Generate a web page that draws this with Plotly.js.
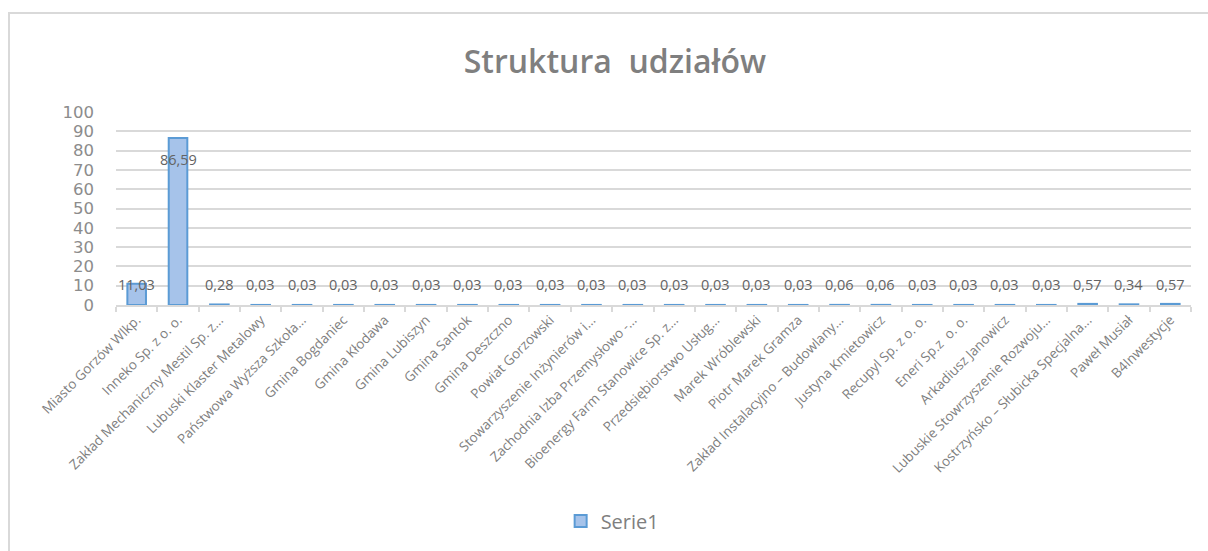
<!DOCTYPE html>
<html>
<head>
<meta charset="utf-8">
<script src="https://cdn.plot.ly/plotly-3.0.1.min.js"></script>
<style>
  html, body { margin:0; padding:0; background:#fff; overflow:hidden; }
  #wrap { position:relative; width:1208px; height:551px; }
  #chart { position:absolute; left:0; top:0; width:1208px; height:551px; }
  #frame { position:absolute; left:8px; top:12px; width:1220px; height:570px;
           border:2px solid #d9d9d9; pointer-events:none; box-sizing:border-box; }
</style>
</head>
<body>
<div id="wrap">
  <div id="chart"></div>
  <div id="frame"></div>
</div>
<script>
const categories = [
  "Miasto Gorzów Wlkp.",
  "Inneko Sp. z o. o.",
  "Zakład Mechaniczny Mestil Sp. z...",
  "Lubuski Klaster Metalowy",
  "Państwowa Wyższa Szkoła...",
  "Gmina Bogdaniec",
  "Gmina Kłodawa",
  "Gmina Lubiszyn",
  "Gmina Santok",
  "Gmina Deszczno",
  "Powiat Gorzowski",
  "Stowarzyszenie Inżynierów i...",
  "Zachodnia Izba Przemysłowo -...",
  "Bioenergy Farm Stanowice Sp. z...",
  "Przedsiębiorstwo Usług...",
  "Marek Wróblewski",
  "Piotr Marek Gramza",
  "Zakład Instalacyjno – Budowlany...",
  "Justyna Kmietowicz",
  "Recupyl Sp. z o. o.",
  "Eneri Sp.z  o. o.",
  "Arkadiusz Janowicz",
  "Lubuskie Stowrzyszenie Rozwoju...",
  "Kostrzyńsko – Słubicka Specjalna...",
  "Paweł Musiał",
  "B4Inwestycje"
];
const serie1 = [11.03, 86.59, 0.28, 0.03, 0.03, 0.03, 0.03, 0.03, 0.03, 0.03, 0.03, 0.03, 0.03,
                0.03, 0.03, 0.03, 0.03, 0.06, 0.06, 0.03, 0.03, 0.03, 0.03, 0.57, 0.34, 0.57];
const seriesName = "Serie1";
const titleText = "Struktura  udziałów";
const yTicks = [0, 10, 20, 30, 40, 50, 60, 70, 80, 90, 100];

const fmt = v => v.toFixed(2).replace('.', ',');

const trace = {
  type: 'bar',
  name: seriesName,
  x: categories,
  y: serie1,
  marker: { color: '#a6c3ea', line: { color: '#5b9bd5', width: 2 } },
  hoverinfo: 'x+y',
  showlegend: true
};

const annotations = categories.map((c, i) => ({
  x: c,
  y: serie1[i] > 20 ? serie1[i] - 11.3 : 10.8,
  xref: 'x', yref: 'y',
  text: fmt(serie1[i]),
  showarrow: false,
  yanchor: 'middle',
  xanchor: 'center',
  font: { family: 'Open Sans, sans-serif', size: 14.5, color: '#636363' }
}));

const layout = {
  width: 1208, height: 551,
  margin: { l: 116, r: 17, t: 112, b: 245, pad: 0 },
  paper_bgcolor: '#ffffff', plot_bgcolor: '#ffffff',
  title: {
    text: titleText,
    x: 0.509, xanchor: 'center', xref: 'container',
    y: 0.887, yanchor: 'middle', yref: 'container',
    font: { family: 'Open Sans, sans-serif', size: 32, color: '#7f7f7f', weight: 600 }
  },
  bargap: 0.55,
  xaxis: {
    type: 'category',
    tickangle: -45,
    tickson: 'boundaries',
    ticks: 'outside', ticklen: 5, tickcolor: '#d9d9d9', tickwidth: 1.5,
    showline: true, linecolor: '#d9d9d9', linewidth: 1.5,
    showgrid: false,
    tickfont: { family: 'Open Sans, sans-serif', size: 13.5, color: '#7f7f7f' }
  },
  yaxis: {
    range: [0, 100],
    tickvals: yTicks,
    ticktext: yTicks.map(String),
    showgrid: true, gridcolor: '#d9d9d9', gridwidth: 1.5,
    zeroline: false, showline: false, ticks: '',
    ticklabelstandoff: 21,
    tickfont: { family: 'DejaVu Sans, sans-serif', size: 16.5, color: '#8c8c8c' }
  },
  legend: {
    orientation: 'h',
    x: 0.462, xanchor: 'center',
    y: -1.108, yanchor: 'middle',
    itemwidth: 30,
    font: { family: 'Open Sans, sans-serif', size: 20, color: '#7f7f7f' },
    bgcolor: 'rgba(0,0,0,0)'
  },
  annotations: annotations
};

Plotly.newPlot('chart', [trace], layout, { displayModeBar: false, staticPlot: false });
</script>
</body>
</html>
